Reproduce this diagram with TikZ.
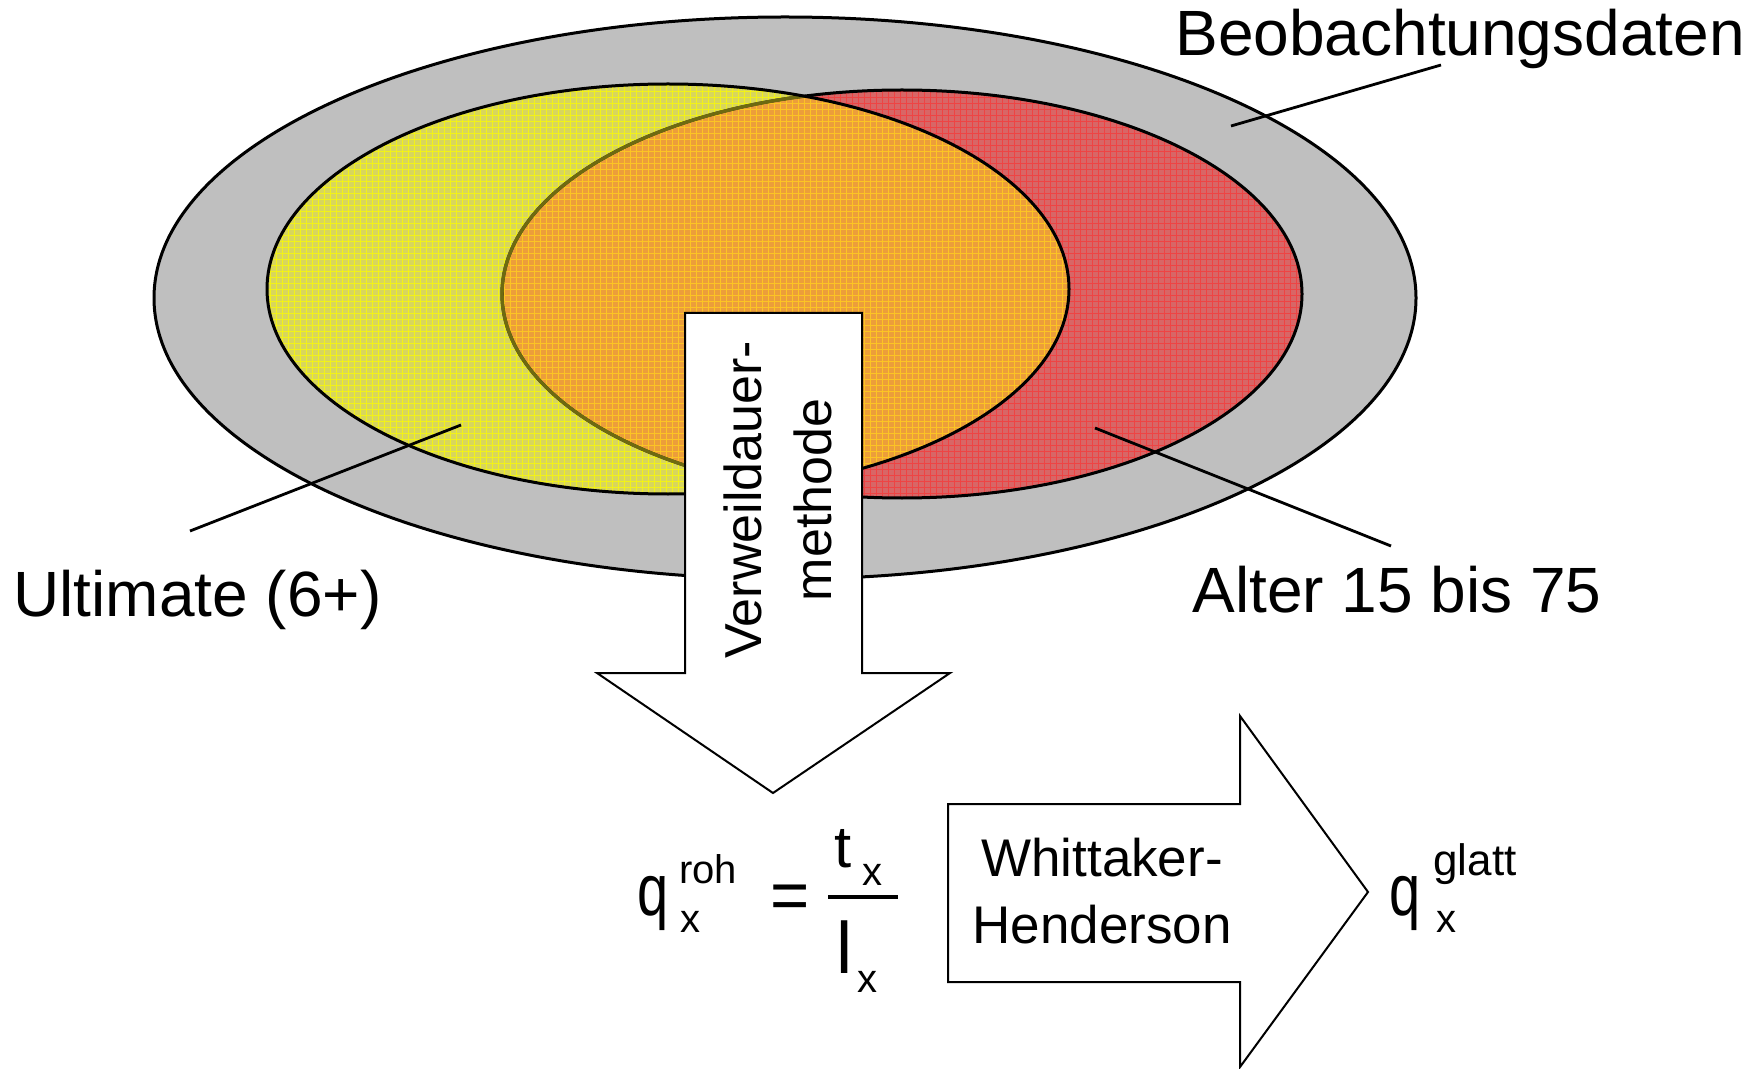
\documentclass[tikz,border=0pt]{standalone}
\usepackage{fontspec}
\usepackage{graphicx}
\usetikzlibrary{patterns}
\setmainfont{Liberation Sans}
\newcommand\tallglyph[1]{\scalebox{1}[1.3]{#1}}
\definecolor{grayfill}{HTML}{BFBFBF}
\definecolor{yelfill}{HTML}{D8D65C}
\definecolor{yelgrid}{HTML}{F2F218}
\definecolor{redfill}{HTML}{D86666}
\definecolor{redgrid}{HTML}{EE4444}
\definecolor{orafill}{HTML}{EC9E3A}
\definecolor{oragrid}{HTML}{FCC424}
\definecolor{olivel}{HTML}{6E6A10}
\begin{document}
\begin{tikzpicture}[x=0.5pt,y=-0.5pt,
  outl/.style={line width=1.5pt},
  arrowbox/.style={fill=white,draw=black,line width=1pt,line join=miter},
  lbl/.style={font=\fontsize{32}{38}\selectfont, inner sep=0pt},
  leader/.style={line width=1.4pt},
  fbig/.style={font=\fontsize{28}{34}\selectfont, inner sep=0pt, anchor=base west},
  fscr/.style={font=\fontsize{20}{24}\selectfont, inner sep=0pt, anchor=base west}]
\useasboundingbox (0,0) rectangle (1755,1069);
\fill[white] (0,0) rectangle (1755,1069);
% outer ellipse
\draw[outl, fill=grayfill] (785,298) ellipse [x radius=631, y radius=281];
% inner ellipses
\fill[yelfill] (668,289) ellipse [x radius=401, y radius=205];
\fill[pattern=grid, pattern color=yelgrid] (668,289) ellipse [x radius=401, y radius=205];
\fill[redfill] (902,294) ellipse [x radius=400, y radius=204];
\fill[pattern=grid, pattern color=redgrid] (902,294) ellipse [x radius=400, y radius=204];
\begin{scope}
  \clip (668,289) ellipse [x radius=401, y radius=205];
  \fill[orafill] (902,294) ellipse [x radius=400, y radius=204];
  \fill[pattern=grid, pattern color=oragrid] (902,294) ellipse [x radius=400, y radius=204];
\end{scope}
\draw[outl] (902,294) ellipse [x radius=400, y radius=204];
\begin{scope}
  \clip (668,289) ellipse [x radius=401, y radius=205];
  \draw[line width=1.7pt, olivel] (902,294) ellipse [x radius=400, y radius=204];
\end{scope}
\draw[outl] (668,289) ellipse [x radius=401, y radius=205];
% leader lines
\coordinate (bdA) at (1441,65);
\coordinate (bdB) at (1231,126);
\coordinate (ulA) at (190,531);
\coordinate (ulB) at (461,425);
\coordinate (alA) at (1391,546);
\coordinate (alB) at (1095,428);
\draw[leader] (bdA) -- (bdB);
\draw[leader] (ulA) -- (ulB);
\draw[leader] (alA) -- (alB);
% labels
\node[lbl, anchor=base west] (bd) at (1175,56) {Beobachtungsdaten};
\node[lbl, anchor=base west] (ul) at (13,616) {Ultimate (6+)};
\node[lbl, anchor=base west] (al) at (1192,612) {Alter 15 bis 75};
% down arrow
\draw[arrowbox] (685,313) -- (862,313) -- (862,673) -- (950,673) -- (773,793) -- (597,673) -- (685,673) -- cycle;
\node[rotate=90, align=center, inner sep=0pt, font=\fontsize{26}{35}\selectfont] (vw) at (778,500) {Verweildauer-\\methode};
% right arrow
\draw[arrowbox] (948,804) -- (1240,804) -- (1240,716) -- (1368,892) -- (1240,1067) -- (1240,982) -- (948,982) -- cycle;
\node[align=center, inner sep=0pt, font=\fontsize{26.5}{33.5}\selectfont] (wh) at (1102,891) {Whittaker-\\Henderson};
% formula q_x^roh = t_x / l_x
\node[fbig] (q1) at (637,915) {\tallglyph{q}};
\node[fscr] (q1sub) at (680,932) {x};
\node[fscr] (q1sup) at (679,883) {roh};
\node[inner sep=0pt, font=\fontsize{32}{38}\selectfont] (eq) at (790,902) {\scalebox{1.05}[1.1]{=}};
\coordinate (barL) at (828,897);
\coordinate (barR) at (898,897);
\draw[line width=1.8pt] (barL) -- (barR);
\node[fbig] (tn) at (834,867) {\scalebox{1.1}[1.05]{t}};
\node[fscr] (tsub) at (862,885) {x};
\node[fbig] (ln) at (836,973) {\scalebox{1.3}[1.3]{l}};
\node[fscr] (lsub) at (857,992) {x};
% q_x^glatt
\node[fbig] (q2) at (1389,915) {\tallglyph{q}};
\node[fscr] (q2sub) at (1436,932) {x};
\node[fscr, font=\fontsize{22}{26}\selectfont] (q2sup) at (1433,875) {glatt};
\end{tikzpicture}
\end{document}
